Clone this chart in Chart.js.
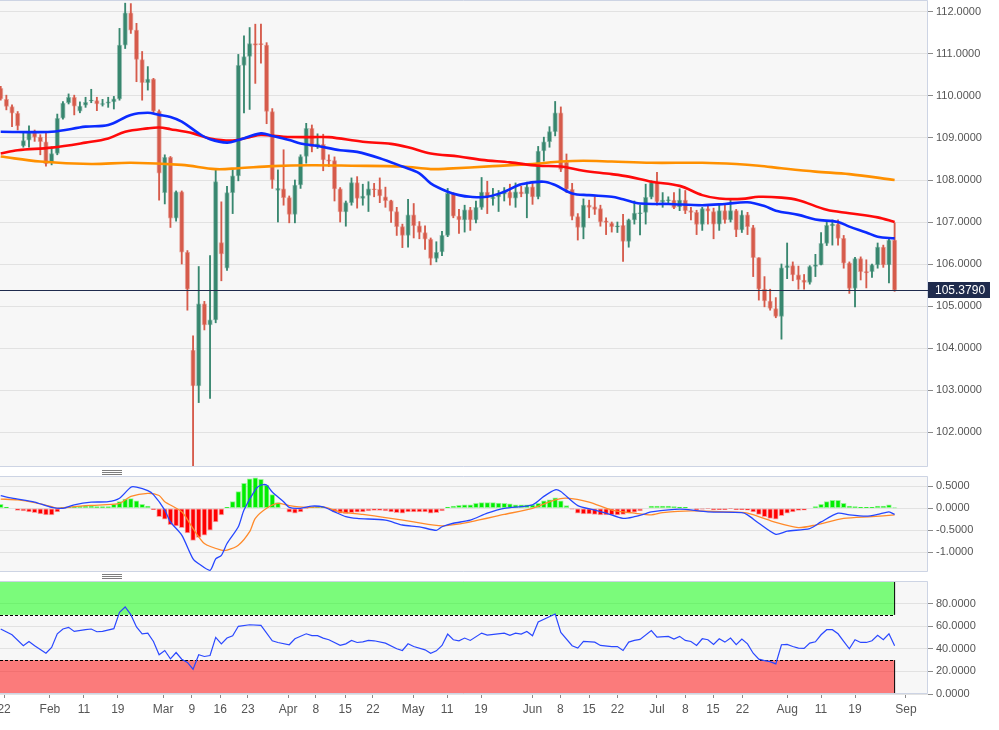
<!DOCTYPE html>
<html>
<head>
<meta charset="utf-8">
<script src="https://cdn.jsdelivr.net/npm/chart.js@4.4.1/dist/chart.umd.min.js"></script>
<style>
  html, body { margin: 0; padding: 0; background: #fff; }
  #wrap { position: relative; width: 999px; height: 730px; overflow: hidden; }
  canvas { position: absolute; left: 0; }
  .grip { position: absolute; left: 102px; width: 20px; height: 5px;
    background: repeating-linear-gradient(to bottom, #7d7d7d 0 1px, transparent 1px 2px); }
</style>
</head>
<body>
<div id="wrap">
  <canvas id="precio" width="999" height="467" style="top:0"></canvas>
  <div class="grip" style="top:470px"></div>
  <canvas id="macd" width="999" height="96" style="top:476px"></canvas>
  <div class="grip" style="top:574px"></div>
  <canvas id="rsi" width="999" height="149" style="top:581px"></canvas>
</div>
<script>
// velas diarias
const opens = [110.18,109.92,109.75,109.59,108.81,108.95,109.13,109.02,108.91,108.41,108.63,109.47,109.84,109.97,109.64,109.78,109.88,109.89,109.80,109.83,
  109.86,109.93,111.21,111.98,111.57,110.87,110.32,110.40,109.64,107.70,108.54,107.09,107.72,106.28,103.95,103.10,105.05,104.55,104.67,106.51,
  105.90,107.70,108.10,110.73,110.94,111.25,111.25,111.21,109.63,107.75,107.79,107.58,107.18,107.88,108.56,109.23,108.80,108.85,108.48,108.46,
  107.79,107.24,107.46,107.94,107.56,107.63,107.79,107.78,107.60,107.51,107.25,106.89,106.68,107.17,106.91,106.75,106.59,106.13,106.29,106.68,
  107.68,107.14,107.05,107.29,107.05,107.35,107.71,107.55,107.60,107.66,107.71,107.57,107.72,107.67,107.84,107.60,108.69,108.91,109.15,109.60,
  108.42,107.78,107.13,106.87,107.40,107.36,107.32,107.03,106.97,106.88,106.92,106.54,107.05,107.20,107.23,107.59,107.94,107.48,107.51,107.52,
  107.36,107.52,107.27,107.23,106.94,107.32,107.25,106.95,107.27,107.05,107.27,106.81,107.17,106.87,106.15,105.40,105.12,104.94,104.75,105.91,
  105.96,105.74,105.62,105.56,105.94,105.98,106.49,106.91,106.95,106.61,106.02,105.42,106.13,105.82,105.82,105.98,106.40,105.98,106.57];
const highs = [110.23,110.02,109.79,109.63,109.13,109.29,109.19,109.08,109.13,108.79,109.57,109.87,110.05,110.02,109.86,109.97,110.16,109.97,109.92,109.97,
  109.99,111.61,112.21,112.20,111.73,111.06,110.70,110.42,109.67,108.60,108.56,107.74,107.74,106.32,104.29,105.94,105.11,106.20,108.24,107.48,
  107.85,108.25,110.99,111.43,111.63,111.71,111.71,111.27,109.70,108.24,108.72,107.62,108.00,108.60,109.35,109.31,109.10,109.09,108.60,108.55,
  107.82,107.50,108.05,108.08,107.90,107.96,107.92,108.05,107.83,107.52,107.35,106.95,107.54,107.44,107.01,106.91,106.62,106.53,106.78,107.80,
  107.70,107.30,107.40,107.35,107.50,108.06,107.97,107.80,107.75,107.82,107.90,107.93,107.85,107.95,107.94,108.80,109.02,109.27,109.87,109.74,
  108.62,107.92,107.20,107.55,107.52,107.60,107.40,107.10,107.00,107.00,107.18,107.07,107.50,107.40,107.90,107.98,108.18,107.70,107.60,107.70,
  107.79,107.75,107.35,107.28,107.35,107.42,107.33,107.42,107.42,107.55,107.30,107.27,107.23,106.92,106.15,105.70,105.40,105.20,106.00,106.50,
  106.05,105.95,105.75,105.96,106.23,106.75,107.03,107.05,107.05,106.68,106.05,106.16,106.17,106.10,106.00,106.50,106.45,106.62,106.98];
const lows = [109.90,109.67,109.27,109.19,108.78,108.78,108.92,108.60,108.33,108.36,108.60,109.45,109.81,109.55,109.60,109.73,109.84,109.65,109.76,109.73,
  109.69,109.90,111.13,111.49,110.34,109.90,110.14,109.59,107.52,107.43,106.87,107.02,106.00,104.90,101.17,102.70,104.43,102.80,104.60,105.60,
  105.85,107.20,107.98,109.60,109.68,110.30,110.78,109.34,107.80,107.00,107.40,106.98,106.98,107.80,108.40,108.67,108.75,108.22,108.32,107.50,
  107.00,106.90,107.40,107.33,107.40,107.25,107.60,107.46,107.35,106.99,106.68,106.39,106.40,106.62,106.60,106.35,105.98,106.05,106.20,106.65,
  107.10,106.73,106.76,106.80,106.98,107.30,107.20,107.40,107.25,107.50,107.40,107.35,107.60,107.10,107.42,107.55,108.45,108.78,109.05,108.20,
  107.70,107.05,106.57,106.60,107.10,107.18,106.90,106.70,106.76,106.75,106.06,106.40,106.95,106.69,106.95,107.55,107.40,107.35,107.42,107.32,
  107.27,107.20,107.05,106.70,106.80,106.95,106.60,106.80,106.97,107.00,106.65,106.75,106.70,105.70,105.14,104.98,104.90,104.72,104.21,105.65,
  105.60,105.40,105.40,105.52,105.70,105.98,106.44,106.45,106.45,105.90,105.30,104.98,105.62,105.43,105.68,105.90,105.92,105.55,105.35];
const closes = [109.93,109.75,109.59,109.29,108.94,109.13,109.02,108.91,108.38,108.63,109.47,109.83,109.97,109.76,109.76,109.85,109.90,109.81,109.82,109.86,
  109.93,111.21,111.98,111.57,110.87,110.32,110.40,109.64,108.16,108.54,107.09,107.72,106.28,105.40,103.10,105.05,104.55,104.67,107.96,106.24,
  107.70,108.10,110.73,110.94,111.25,111.21,111.22,109.63,108.00,107.80,107.58,107.18,107.88,108.56,109.23,108.79,108.86,108.48,108.45,107.79,
  107.24,107.46,107.94,107.56,107.62,107.79,107.77,107.62,107.51,107.25,106.89,106.68,107.17,106.91,106.75,106.59,106.13,106.28,106.68,107.68,
  107.14,107.05,107.29,107.05,107.35,107.71,107.59,107.60,107.66,107.74,107.57,107.72,107.67,107.84,107.60,108.69,108.91,109.15,109.60,108.25,
  107.78,107.13,106.87,107.40,107.35,107.30,107.00,106.99,106.89,106.91,106.54,107.05,107.21,107.22,107.59,107.94,107.48,107.52,107.53,107.34,
  107.52,107.27,107.23,106.94,107.32,107.26,106.95,107.27,107.05,107.27,106.81,107.17,106.89,106.15,105.40,105.12,104.94,104.75,105.91,105.96,
  105.74,105.62,105.56,105.94,105.98,106.49,106.92,106.95,106.61,106.02,105.42,106.13,105.82,105.79,105.98,106.40,105.98,106.57,105.379];

// medias moviles: [indice de vela, valor]
const maFast = [[0,109.15],[9,109.15],[15,109.27],[19,109.31],[23,109.55],[26,109.6],[28,109.55],[30,109.5],[32,109.39],[35,109.11],
  [37,108.97],[40,108.89],[42,108.95],[46,109.11],[48,109.05],[51,108.95],[53,108.87],[56,108.81],[60,108.71],[63,108.67],
  [67,108.52],[71,108.32],[74,108.16],[76,107.92],[79,107.72],[81,107.64],[83,107.6],[86,107.6],[89,107.72],[92,107.9],
  [96,107.96],[98,107.88],[101,107.68],[104,107.64],[108,107.6],[110,107.54],[113,107.44],[118,107.43],[124,107.4],[128,107.43],
  [132,107.47],[135,107.38],[137,107.27],[141,107.17],[144,107.06],[148,107.0],[150,106.89],[153,106.75],[155,106.65],[158,106.61]];
const maMid = [[0,108.63],[3,108.71],[9,108.77],[15,108.89],[19,108.99],[22,109.15],[26,109.23],[28,109.25],[30,109.21],[34,109.11],
  [37,108.99],[41,108.94],[44,109.02],[46,109.07],[50,109.03],[55,109.02],[58,109.02],[64,108.91],[69,108.86],[72,108.78],
  [76,108.63],[81,108.56],[85,108.48],[90,108.42],[95,108.34],[99,108.32],[103,108.22],[108,108.14],[111,108.08],[115,107.96],
  [120,107.86],[124,107.64],[127,107.56],[131,107.55],[134,107.6],[138,107.58],[141,107.52],[146,107.29],[150,107.21],[155,107.11],[158,107.0]];
const maSlow = [[0,108.56],[7,108.44],[16,108.38],[23,108.41],[32,108.36],[38,108.26],[42,108.28],[48,108.33],[55,108.35],[62,108.34],
  [71,108.32],[76,108.26],[79,108.27],[87,108.33],[94,108.38],[99,108.44],[103,108.46],[108,108.44],[115,108.41],[124,108.41],
  [130,108.38],[134,108.34],[138,108.28],[144,108.2],[150,108.14],[158,108.0]];

// MACD
const macdLine = [[0,0.29],[2,0.23],[6,0.14],[9,0.02],[11,0.0],[13,0.08],[16,0.14],[19,0.15],[21,0.23],[23,0.48],[24,0.48],[26,0.4],
  [27,0.31],[29,-0.04],[30,-0.31],[32,-0.61],[34,-1.15],[35,-1.26],[37,-1.41],[38,-1.15],[39,-1.07],[40,-0.8],[42,-0.42],[43,-0.04],
  [45,0.42],[46,0.53],[47,0.53],[48,0.37],[50,0.15],[51,0.02],[53,0.0],[55,0.05],[57,0.03],[59,-0.08],[61,-0.19],[63,-0.23],
  [68,-0.27],[71,-0.38],[74,-0.42],[77,-0.5],[78,-0.42],[80,-0.34],[83,-0.27],[86,-0.11],[89,0.0],[94,0.08],[96,0.27],[98,0.42],
  [99,0.38],[102,0.06],[105,-0.04],[107,-0.11],[110,-0.23],[112,-0.19],[114,-0.12],[115,-0.08],[120,-0.02],[125,-0.08],[131,-0.1],
  [132,-0.15],[134,-0.34],[137,-0.59],[139,-0.52],[143,-0.46],[145,-0.31],[148,-0.11],[150,-0.15],[153,-0.18],[155,-0.14],[157,-0.08],[158,-0.14]];
const macdSignal = [[0,0.21],[3,0.19],[6,0.13],[9,0.04],[10,0.0],[13,0.04],[18,0.08],[21,0.11],[23,0.27],[26,0.34],[28,0.29],[29,0.15],
  [32,-0.08],[34,-0.46],[36,-0.8],[39,-0.95],[40,-0.95],[42,-0.84],[44,-0.53],[45,-0.23],[47,0.0],[49,0.11],[51,0.06],[54,0.02],
  [57,0.03],[60,-0.08],[64,-0.14],[68,-0.21],[73,-0.31],[78,-0.4],[83,-0.31],[89,-0.14],[94,0.0],[98,0.19],[100,0.23],[104,0.14],
  [108,-0.04],[112,-0.11],[115,-0.15],[117,-0.1],[122,-0.06],[128,-0.08],[132,-0.11],[137,-0.32],[141,-0.44],[144,-0.38],[149,-0.23],
  [154,-0.19],[158,-0.15]];
const macdHist = [0.09,0.03,0.0,-0.05,-0.06,-0.08,-0.1,-0.13,-0.15,-0.15,-0.08,0.02,0.03,0.04,0.05,0.05,0.05,0.04,0.04,0.04,
  0.09,0.15,0.21,0.22,0.17,0.09,0.05,-0.03,-0.19,-0.25,-0.37,-0.4,-0.44,-0.56,-0.73,-0.66,-0.61,-0.5,-0.31,-0.15,
  0.02,0.15,0.38,0.57,0.67,0.69,0.66,0.53,0.31,0.13,0.0,-0.09,-0.11,-0.08,-0.01,0.02,0.04,0.02,-0.01,-0.08,
  -0.11,-0.12,-0.1,-0.09,-0.08,-0.06,-0.05,-0.05,-0.06,-0.08,-0.1,-0.11,-0.08,-0.08,-0.08,-0.08,-0.11,-0.1,-0.06,0.03,
  0.05,0.07,0.08,0.08,0.11,0.13,0.13,0.13,0.12,0.11,0.1,0.08,0.08,0.08,0.08,0.11,0.17,0.19,0.24,0.17,
  0.06,-0.02,-0.11,-0.13,-0.13,-0.14,-0.15,-0.15,-0.15,-0.15,-0.14,-0.11,-0.09,-0.06,0.0,0.05,0.05,0.05,0.05,0.04,
  0.03,0.02,0.0,-0.03,-0.02,-0.01,-0.03,-0.03,-0.03,-0.01,-0.03,-0.03,-0.04,-0.08,-0.14,-0.19,-0.23,-0.25,-0.17,-0.11,
  -0.08,-0.05,-0.04,0.0,0.04,0.09,0.15,0.18,0.18,0.11,0.05,0.04,0.02,0.02,0.02,0.05,0.05,0.08,0.01];

// RSI
const rsiLine = [[0,57.5],[2,52.4],[4,42.7],[5,46.5],[6,42.7],[8,36.1],[9,41.2],[10,53.3],[11,57.5],[12,59],[13,55.4],[15,56.9],
  [16,57.5],[17,55.1],[18,55.4],[20,57.8],[21,72.3],[22,77],[23,70.2],[24,59.3],[25,53.3],[26,53.9],[27,46.5],[28,34.7],[29,38.5],
  [30,31.1],[31,36.7],[32,30.8],[33,27.9],[34,21.9],[35,34.7],[36,33.2],[37,34.1],[38,50.1],[39,44.4],[40,49.5],[41,51.6],[42,59.9],
  [44,61.3],[46,60.7],[48,47.1],[49,45.6],[51,43.6],[52,48.9],[54,53.3],[55,51.6],[56,51.6],[57,49.5],[58,48],[60,43],[61,44.4],
  [62,47.4],[63,45.6],[64,46.2],[65,47.4],[66,47.1],[68,45],[70,40],[71,38.5],[72,44.4],[73,42],[75,39.1],[76,36.1],[77,38.2],
  [78,43],[79,53],[80,48],[81,47.1],[82,49.5],[83,47.4],[85,53.9],[86,52.1],[89,53.9],[90,51.9],[91,53.9],[92,53],[93,55.4],
  [94,51.6],[95,63.7],[98,70.8],[99,54.5],[101,42.7],[102,40.6],[103,46.5],[105,45.9],[106,43],[108,42],[109,42],[110,38.5],
  [111,45.9],[112,47.4],[113,48.3],[115,56.2],[116,50.4],[118,51],[119,48.6],[120,51],[121,47.4],[122,46.5],[123,43],[124,48.9],
  [125,48],[126,43.9],[127,48.9],[128,45.9],[129,49.5],[130,43.6],[131,48.6],[132,44.4],[133,36.1],[134,30.8],[135,29.6],[136,28.7],
  [137,26.7],[138,43.6],[139,43.9],[140,42],[141,40.6],[142,40.3],[143,45],[144,46.2],[145,52.4],[146,56.9],[147,56.9],[148,53.3],
  [149,46.5],[150,40],[151,48],[152,45.6],[153,45.6],[154,47.1],[155,51.9],[156,48],[157,53.3],[158,42.7]];
const rsiUpper = 70;
const rsiLower = 30;

// ejes
const priceTicks = [102,103,104,105,106,107,108,109,110,111,112];
const macdTicks = [-1,-0.5,0,0.5];
const rsiTicks = [0,20,40,60,80];
const xTickPos = [0.6,8.7,14.7,20.7,28.7,33.8,38.8,43.7,50.8,55.7,60.9,65.8,72.9,78.9,84.9,94,98.9,104,109,116,121,125.9,131.1,139,145,151,160];
const xTickText = ['22','Feb','11','19','Mar','9','16','23','Apr','8','15','22','May','11','19','Jun','8','15','22','Jul','8','15','22','Aug','11','19','Sep'];

const X_MIN = -0.124, X_MAX = 163.9;

Chart.defaults.font.family = "'Liberation Sans', Arial, sans-serif";
Chart.defaults.font.size = 11;
Chart.defaults.color = '#555';
Chart.defaults.animation = false;
Chart.defaults.plugins.legend.display = false;
Chart.defaults.plugins.tooltip.enabled = false;

const pares = arr => arr.map(([x, y]) => ({ x, y }));

// fondo gris y marco de cada panel
const panel = {
  id: 'panel',
  beforeDraw(chart) {
    const { ctx, chartArea: a } = chart;
    ctx.save();
    ctx.fillStyle = '#f7f7f7';
    ctx.fillRect(a.left, a.top, a.width, a.height);
    ctx.restore();
  },
  afterDraw(chart) {
    const { ctx, chartArea: a } = chart;
    ctx.save();
    ctx.strokeStyle = '#cdd4e4';
    ctx.lineWidth = 1;
    ctx.beginPath();
    ctx.moveTo(a.left, a.top + 0.5); ctx.lineTo(a.right - 0.5, a.top + 0.5);
    ctx.lineTo(a.right - 0.5, a.bottom - 0.5); ctx.lineTo(a.left, a.bottom - 0.5);
    ctx.stroke();
    ctx.restore();
  }
};

function ejeY(min, max, valores) {
  return {
    position: 'right', min, max,
    afterBuildTicks: ax => { ax.ticks = valores.map(v => ({ value: v })); },
    afterFit: ax => { ax.width = 71; ax.paddingTop = 0; ax.paddingBottom = 0; },
    grid: { color: '#e2e2e2', lineWidth: 1, drawTicks: true, tickLength: 5, tickColor: '#8a8a8a' },
    border: { display: false },
    ticks: { autoSkip: false, padding: 3, color: '#555', callback: v => Number(v).toFixed(4) }
  };
}

function ejeXOculto() {
  return { type: 'linear', min: X_MIN, max: X_MAX, offset: false, display: false };
}

// --- precio ---
const sube = closes.map((c, i) => c >= opens[i]);
const colVela = sube.map(u => u ? '#38876f' : '#d65b4b');
const bordeVela = sube.map(u => u ? 'rgba(56,135,111,0.45)' : 'rgba(214,91,75,0.45)');

const etiquetaPrecio = {
  id: 'etiquetaPrecio',
  afterDraw(chart) {
    const { ctx, chartArea: a, scales: { y } } = chart;
    const ultimo = closes[closes.length - 1];
    const py = Math.round(y.getPixelForValue(ultimo)) + 0.5;
    ctx.save();
    ctx.strokeStyle = '#1f2b4d';
    ctx.lineWidth = 1;
    ctx.beginPath(); ctx.moveTo(a.left, py); ctx.lineTo(a.right, py); ctx.stroke();
    ctx.fillStyle = '#1f2b4d';
    ctx.fillRect(a.right, py - 8.5, 62, 16);
    ctx.fillStyle = '#fff';
    ctx.font = "12px 'Liberation Sans', Arial, sans-serif";
    ctx.textBaseline = 'middle';
    ctx.fillText(ultimo.toFixed(4), a.right + 7, py + 0.5);
    ctx.restore();
  }
};

new Chart(document.getElementById('precio'), {
  type: 'bar',
  data: {
    datasets: [
      { type: 'line', data: pares(maFast), borderColor: '#0b2bff', borderWidth: 2.6, pointRadius: 0, tension: 0.35, order: 0 },
      { type: 'line', data: pares(maMid), borderColor: '#ff0a0a', borderWidth: 2.6, pointRadius: 0, tension: 0.35, order: 0 },
      { type: 'line', data: pares(maSlow), borderColor: '#ff9000', borderWidth: 2.6, pointRadius: 0, tension: 0.35, order: 0 },
      { data: closes.map((c, i) => ({ x: i, y: [opens[i], c] })), backgroundColor: colVela, borderColor: bordeVela,
        borderWidth: 1, borderSkipped: false, barThickness: 4.6, grouped: false, order: 1 },
      { data: closes.map((c, i) => ({ x: i, y: [lows[i], highs[i]] })), backgroundColor: colVela,
        barThickness: 1.2, grouped: false, order: 2 }
    ]
  },
  options: {
    responsive: false,
    layout: { padding: 0 },
    scales: { x: ejeXOculto(), y: ejeY(101.1667, 112.2857, priceTicks) }
  },
  plugins: [panel, etiquetaPrecio]
});

// --- MACD ---
new Chart(document.getElementById('macd'), {
  type: 'bar',
  data: {
    datasets: [
      { type: 'line', data: pares(macdLine), borderColor: '#2546ff', borderWidth: 1.3, pointRadius: 0, tension: 0.25, order: 0 },
      { type: 'line', data: pares(macdSignal), borderColor: '#ff8a2a', borderWidth: 1.3, pointRadius: 0, tension: 0.25, order: 0 },
      { data: macdHist.map((h, i) => ({ x: i, y: h })),
        backgroundColor: macdHist.map(h => h >= 0 ? '#00ee00' : '#ff0000'),
        borderColor: macdHist.map(h => h >= 0 ? 'rgba(0,238,0,0.4)' : 'rgba(255,0,0,0.35)'),
        borderWidth: 1, borderSkipped: false, barThickness: 4.8, grouped: false, order: 1 }
    ]
  },
  options: {
    responsive: false,
    layout: { padding: 0 },
    scales: { x: ejeXOculto(), y: ejeY(-1.448, 0.734, macdTicks) }
  },
  plugins: [panel]
});

// --- RSI ---
const zonasRsi = {
  id: 'zonasRsi',
  beforeDatasetsDraw(chart) {
    const { ctx, chartArea: a, scales: { x, y } } = chart;
    const fin = x.getPixelForValue(rsiLine[rsiLine.length - 1][0]);
    const yTop = y.getPixelForValue(100), yUp = y.getPixelForValue(rsiUpper);
    const yLo = y.getPixelForValue(rsiLower), yBot = y.getPixelForValue(0);
    ctx.save();
    ctx.fillStyle = 'rgba(0,255,0,0.5)';
    ctx.fillRect(a.left, yTop, fin - a.left, yUp - yTop);
    ctx.fillStyle = 'rgba(255,0,0,0.5)';
    ctx.fillRect(a.left, yLo, fin - a.left, yBot - yLo);
    ctx.strokeStyle = '#000';
    ctx.lineWidth = 1;
    ctx.setLineDash([3, 2]);
    ctx.beginPath();
    ctx.moveTo(a.left, Math.round(yUp) + 0.5); ctx.lineTo(fin, Math.round(yUp) + 0.5);
    ctx.moveTo(a.left, Math.round(yLo) + 0.5); ctx.lineTo(fin, Math.round(yLo) + 0.5);
    ctx.stroke();
    ctx.setLineDash([]);
    ctx.beginPath();
    ctx.moveTo(fin, yTop); ctx.lineTo(fin, yUp);
    ctx.moveTo(fin, yLo); ctx.lineTo(fin, yBot);
    ctx.stroke();
    ctx.restore();
  }
};

new Chart(document.getElementById('rsi'), {
  type: 'line',
  data: {
    datasets: [
      { data: pares(rsiLine), borderColor: '#2a48ff', borderWidth: 1.2, pointRadius: 0, tension: 0 }
    ]
  },
  options: {
    responsive: false,
    layout: { padding: 0 },
    scales: {
      x: {
        type: 'linear', min: X_MIN, max: X_MAX, offset: false,
        afterBuildTicks: ax => { ax.ticks = xTickPos.map(v => ({ value: v })); },
        afterFit: ax => { ax.height = 36; ax.paddingLeft = 0; ax.paddingRight = 0; },
        grid: { drawOnChartArea: false, drawTicks: true, tickLength: 4, tickColor: '#8a8a8a' },
        border: { display: false },
        ticks: { autoSkip: false, maxRotation: 0, padding: 4, color: '#555', font: { size: 12 }, callback: (v, i) => xTickText[i] }
      },
      y: ejeY(0, 100, rsiTicks)
    }
  },
  plugins: [panel, zonasRsi]
});
</script>
</body>
</html>
